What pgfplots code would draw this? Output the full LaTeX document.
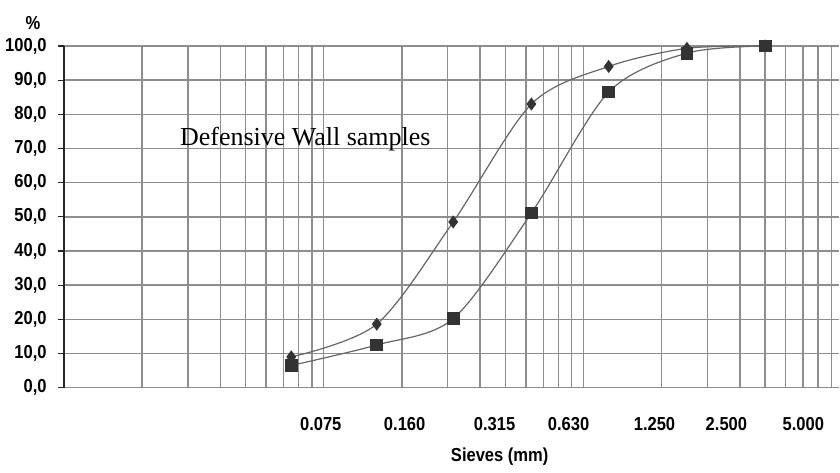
\documentclass[border=0pt]{standalone}
\usepackage{fontspec}
\setmainfont{Liberation Serif}
\newfontfamily\narrowfont[FakeStretch=0.88]{Liberation Sans}
\usepackage{pgfplots}
\pgfplotsset{compat=1.18}
\definecolor{gridc}{HTML}{8E8E8E}
\definecolor{linec}{HTML}{666666}
\definecolor{markc}{HTML}{333333}
\newcommand{\lblfont}{\fontsize{9.4}{11}\selectfont\narrowfont\bfseries}
\begin{document}
\begin{tikzpicture}
\begin{axis}[
  scale only axis, width=388pt, height=171pt,
  xmode=log, xmin=0.01, xmax=9.65, ymin=0, ymax=100,
  axis lines=left, axis line style={-},
  x axis line style={draw=gridc, line width=0.7pt},
  y axis line style={draw=black!85, line width=0.7pt},
  xtick={0.0974,0.2049,0.4546,0.8756,1.876,3.548,7.02},
  xticklabels={0.075,0.160,0.315,0.630,1.250,2.500,5.000},
  xtick style={draw=none},
  minor xtick={0.02,0.03,0.04,0.05,0.06,0.07,0.08,0.09,0.1,0.2,0.3,0.4,0.5,0.6,0.7,0.8,0.9,1,2,3,4,5,6,7,8,9},
  xminorgrids=true, xmajorgrids=false, ymajorgrids=true,
  grid style={draw=gridc, line width=0.7pt},
  minor grid style={draw=gridc, line width=0.7pt},
  ytick={0,10,20,30,40,50,60,70,80,90,100},
  yticklabels={{0,0},{10,0},{20,0},{30,0},{40,0},{50,0},{60,0},{70,0},{80,0},{90,0},{100,0}},
  ytick style={draw=black!85, line width=0.6pt},
  tick align=outside, major tick length=3pt,
  xticklabel style={font=\lblfont, anchor=center, yshift=-15pt},
  yticklabel style={font=\lblfont, inner sep=0pt, xshift=-5.5pt},
  xlabel={Sieves (mm)},
  xlabel style={at={(axis description cs:0.562,0)}, anchor=center, yshift=-34.5pt, font=\lblfont},
  ylabel={\%},
  ylabel style={rotate=-90, at={(axis description cs:0,1)}, anchor=center, xshift=-15.5pt, yshift=11.5pt, font=\lblfont},
  clip=false,
]
\addplot[color=linec, line width=0.6pt, smooth, tension=0.5, mark=diamond*, mark size=2.8pt,
  mark options={draw=markc, fill=markc}]
  coordinates {(0.075,9.0) (0.16,18.6) (0.315,48.5) (0.63,83.0) (1.25,94.0) (2.5,99.3) (5.0,100.0)};
\addplot[color=linec, line width=0.6pt, smooth, tension=0.5, mark=square*, mark size=2.9pt,
  mark options={draw=markc, fill=markc}]
  coordinates {(0.075,6.5) (0.16,12.5) (0.315,20.2) (0.63,51.1) (1.25,86.5) (2.5,97.9) (5.0,100.0)};
\node[anchor=west, font=\fontsize{13}{15}\selectfont, inner sep=0pt] at (axis cs:0.0279,72.6) {Defensive Wall samples};
\coordinate (A) at (rel axis cs:0,0);
\coordinate (B) at (rel axis cs:1,1);
\end{axis}
\path ([xshift=-32pt,yshift=-41pt]A) rectangle ([yshift=23pt]B);
\end{tikzpicture}
\end{document}
